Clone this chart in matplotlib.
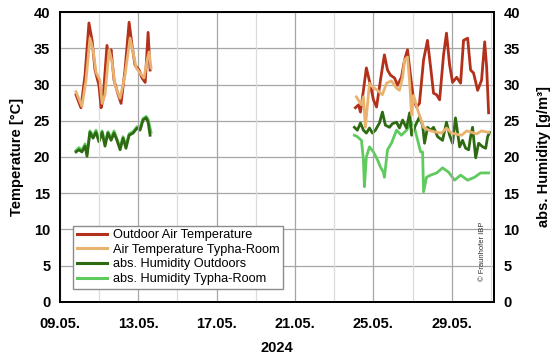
import numpy as np
import matplotlib
matplotlib.use("Agg")
import matplotlib.pyplot as plt
import matplotlib.ticker as mticker
from matplotlib.lines import Line2D

# ── data (x = days since 09.05.2024 00:00) ────────────────────────────────────
# segment 1 : 09.05. - 13.05.,  segment 2 : 24.05. - 31.05.
t_out_d1 = [0.82, 1.07, 1.28, 1.48, 1.64, 1.79, 1.99, 2.10, 2.20, 2.40, 2.51, 2.61,
            2.76, 2.97, 3.12, 3.32, 3.53, 3.68, 3.83, 4.04, 4.19, 4.35, 4.50, 4.60]
t_out_v1 = [28.6, 26.8, 31.3, 38.5, 36.1, 32.0, 29.9, 26.8, 27.9, 35.4, 33.7, 34.8,
            30.6, 28.6, 27.4, 32.0, 38.6, 35.4, 32.7, 32.0, 30.9, 30.3, 37.2, 32.0]
t_out_d2 = [15.08, 15.24, 15.34, 15.49, 15.64, 15.85, 16.00, 16.16, 16.36, 16.56,
            16.72, 16.87, 17.08, 17.23, 17.43, 17.59, 17.74, 17.89, 18.05, 18.20,
            18.35, 18.56, 18.76, 18.92, 19.07, 19.22, 19.38, 19.58, 19.73, 19.89,
            20.04, 20.25, 20.45, 20.60, 20.81, 20.96, 21.11, 21.32, 21.52, 21.68,
            21.78, 21.88]
t_out_v2 = [26.8, 27.2, 26.2, 29.2, 32.3, 29.9, 27.9, 26.9, 30.6, 34.1,
            32.0, 31.3, 30.9, 29.9, 31.0, 33.4, 34.8, 31.3, 27.9, 26.9,
            27.4, 33.4, 36.1, 32.4, 28.8, 28.6, 27.9, 34.1, 37.1, 32.7,
            30.3, 31.0, 30.2, 36.1, 36.4, 32.0, 31.6, 29.2, 30.6, 35.9,
            32.4, 26.1]

t_room_d1 = [0.82, 1.12, 1.33, 1.53, 1.69, 1.84, 2.04, 2.15, 2.30, 2.51, 2.66,
             2.81, 3.07, 3.32, 3.58, 3.73, 3.89, 4.09, 4.29, 4.45, 4.55, 4.65]
t_room_v1 = [29.0, 27.0, 30.6, 36.4, 34.8, 31.7, 30.6, 27.4, 28.6, 34.8, 33.1,
             29.9, 28.1, 31.3, 36.4, 34.5, 32.3, 31.6, 30.9, 33.4, 34.5, 32.3]
t_room_d2 = [15.13, 15.39, 15.49, 15.59, 15.80, 15.95, 16.21, 16.46, 16.67, 16.92,
             17.18, 17.33, 17.49, 17.59, 17.74, 17.85, 17.95, 18.05, 18.26, 18.56,
             18.82, 19.07, 19.48, 19.73, 19.99, 20.50, 20.76, 21.27, 21.52, 21.88]
t_room_v2 = [28.3, 27.2, 28.3, 24.1, 30.2, 29.7, 29.2, 28.6, 30.2, 30.5,
             29.5, 29.2, 31.0, 33.4, 33.8, 30.3, 25.8, 28.5, 26.5, 24.1,
             23.7, 23.5, 23.3, 24.0, 23.3, 23.0, 23.6, 23.2, 23.6, 23.4]

h_out_d1 = [0.82, 0.97, 1.12, 1.28, 1.38, 1.53, 1.69, 1.84, 1.99, 2.15, 2.30, 2.45,
            2.61, 2.76, 2.91, 3.07, 3.22, 3.37, 3.53, 3.73, 3.94, 4.09, 4.24, 4.40,
            4.50, 4.60]
h_out_v1 = [20.7, 21.0, 20.7, 21.5, 20.1, 23.4, 22.6, 23.4, 22.1, 23.4, 21.5, 23.3,
            22.3, 23.3, 22.3, 21.0, 22.6, 21.2, 23.0, 23.3, 24.0, 23.7, 25.1, 25.4,
            24.8, 23.0]
h_out_d2 = [15.03, 15.18, 15.34, 15.49, 15.64, 15.80, 15.95, 16.10, 16.31, 16.46,
            16.61, 16.82, 16.97, 17.18, 17.33, 17.49, 17.69, 17.85, 17.95, 18.15,
            18.35, 18.51, 18.61, 18.76, 18.92, 19.07, 19.28, 19.53, 19.73, 19.89,
            20.04, 20.19, 20.40, 20.55, 20.71, 20.86, 20.96, 21.06, 21.22, 21.37,
            21.58, 21.73, 21.83, 21.93]
h_out_v2 = [24.1, 23.7, 24.7, 23.7, 23.3, 24.0, 23.3, 23.7, 24.7, 26.2,
            24.4, 24.1, 24.6, 24.8, 24.0, 25.1, 24.0, 26.1, 23.0, 24.4,
            25.5, 24.4, 21.9, 24.1, 23.7, 24.1, 22.8, 22.3, 24.8, 23.0,
            21.9, 25.4, 21.4, 22.3, 21.2, 21.0, 22.8, 24.1, 19.9, 21.9,
            21.4, 21.2, 22.8, 23.4]

h_room_d1 = [0.82, 0.97, 1.12, 1.28, 1.38, 1.53, 1.69, 1.84, 1.99, 2.15, 2.30, 2.45,
             2.61, 2.76, 2.91, 3.07, 3.22, 3.37, 3.53, 3.73, 3.94, 4.09, 4.24, 4.40,
             4.50, 4.65]
h_room_v1 = [20.9, 21.3, 20.9, 21.8, 20.5, 23.6, 22.9, 23.7, 22.4, 23.6, 21.9, 23.5,
             22.6, 23.6, 22.5, 21.3, 22.8, 21.6, 23.2, 23.5, 24.2, 24.0, 25.3, 25.6,
             25.2, 23.4]
h_room_d2 = [15.03, 15.18, 15.39, 15.49, 15.54, 15.64, 15.80, 16.00, 16.21, 16.36,
             16.51, 16.56, 16.72, 16.92, 17.18, 17.43, 17.69, 17.95, 18.10, 18.26,
             18.41, 18.51, 18.56, 18.71, 18.92, 19.23, 19.53, 19.84, 20.14, 20.45,
             20.81, 21.16, 21.47, 21.88]
h_room_v2 = [23.0, 22.8, 22.3, 19.6, 15.9, 20.0, 21.4, 20.7, 19.6, 18.6,
             17.9, 17.2, 21.0, 21.9, 23.7, 23.0, 23.7, 24.8, 24.0, 22.3,
             20.7, 20.7, 15.2, 17.2, 17.5, 17.8, 18.5, 17.9, 16.8, 17.5,
             16.8, 17.2, 17.8, 17.8]

x_ticks = [0, 4, 8, 12, 16, 20]
x_labels = ["09.05.", "13.05.", "17.05.", "21.05.", "25.05.", "29.05."]
y_ticks = [0, 5, 10, 15, 20, 25, 30, 35, 40]

C_TOUT  = "#B3301B"
C_TROOM = "#E9B36F"
C_HOUT  = "#2E6A12"
C_HROOM = "#5FCB5F"

plt.rcParams.update({
    "font.family": ["Liberation Sans", "DejaVu Sans"],
    "font.size": 10.5,
})


def _join(d1, v1, d2, v2):
    # NaN gap between the two measuring periods
    x = list(d1) + [np.nan] + list(d2)
    y = list(v1) + [np.nan] + list(v2)
    return np.array(x, float), np.array(y, float)


fig = plt.figure(figsize=(5.5, 3.56), dpi=100)
ax = fig.add_axes([0.109, 0.152, 0.789, 0.814])
ax2 = ax.twinx()

lw = 2.0
ax2.plot(*_join(h_room_d1, h_room_v1, h_room_d2, h_room_v2), color=C_HROOM, lw=lw)
ax2.plot(*_join(h_out_d1, h_out_v1, h_out_d2, h_out_v2), color=C_HOUT, lw=lw)
ax.plot(*_join(t_room_d1, t_room_v1, t_room_d2, t_room_v2), color=C_TROOM, lw=lw, zorder=3)
ax.plot(*_join(t_out_d1, t_out_v1, t_out_d2, t_out_v2), color=C_TOUT, lw=lw, zorder=2)
ax.set_zorder(ax2.get_zorder() + 1)
ax.patch.set_visible(False)

for a in (ax, ax2):
    a.set_xlim(0, 22.15)
    a.set_ylim(0, 40)
    a.set_yticks(y_ticks)
    a.tick_params(length=0, pad=7)
    for lab in a.get_yticklabels():
        lab.set_fontweight("bold")
    for sp in a.spines.values():
        sp.set_linewidth(1.3)
        sp.set_color("black")

ax.set_xticks(x_ticks)
ax.set_xticklabels(x_labels, fontweight="bold")
ax.xaxis.set_minor_locator(mticker.MultipleLocator(2))
ax.tick_params(axis="x", which="both", length=0, pad=11)

ax2.grid(axis="y", color="#a6a6a6", lw=0.9)
ax2.set_axisbelow(True)
ax.grid(axis="x", which="major", color="#a6a6a6", lw=0.9)
ax.grid(axis="x", which="minor", color="#dcdcdc", lw=0.9)

ax.set_ylabel("Temperature [°C]", fontweight="bold", labelpad=7)
ax2.set_ylabel("abs. Humidity [g/m³]", fontweight="bold", labelpad=12)
ax.set_xlabel("2024", fontweight="bold", labelpad=7)

handles = [
    Line2D([0], [0], color=C_TOUT, lw=2.2),
    Line2D([0], [0], color=C_TROOM, lw=2.2),
    Line2D([0], [0], color=C_HOUT, lw=2.2),
    Line2D([0], [0], color=C_HROOM, lw=2.2),
]
labels = ["Outdoor Air Temperature", "Air Temperature Typha-Room",
          "abs. Humidity Outdoors", "abs. Humidity Typha-Room"]
leg = ax.legend(handles, labels, loc="lower left", bbox_to_anchor=(0.03, 0.045),
                fontsize=9.2, frameon=True, fancybox=False, framealpha=1,
                edgecolor="#8c8c8c", handlelength=2.4, handletextpad=0.4,
                labelspacing=0.2, borderpad=0.3, borderaxespad=0)
leg.get_frame().set_linewidth(1.0)

fig.text(0.877, 0.21, "© Fraunhofer IBP", rotation=90, fontsize=5.5,
         color="#333333", ha="center", va="bottom")

fig.savefig("out.png", dpi=100)
